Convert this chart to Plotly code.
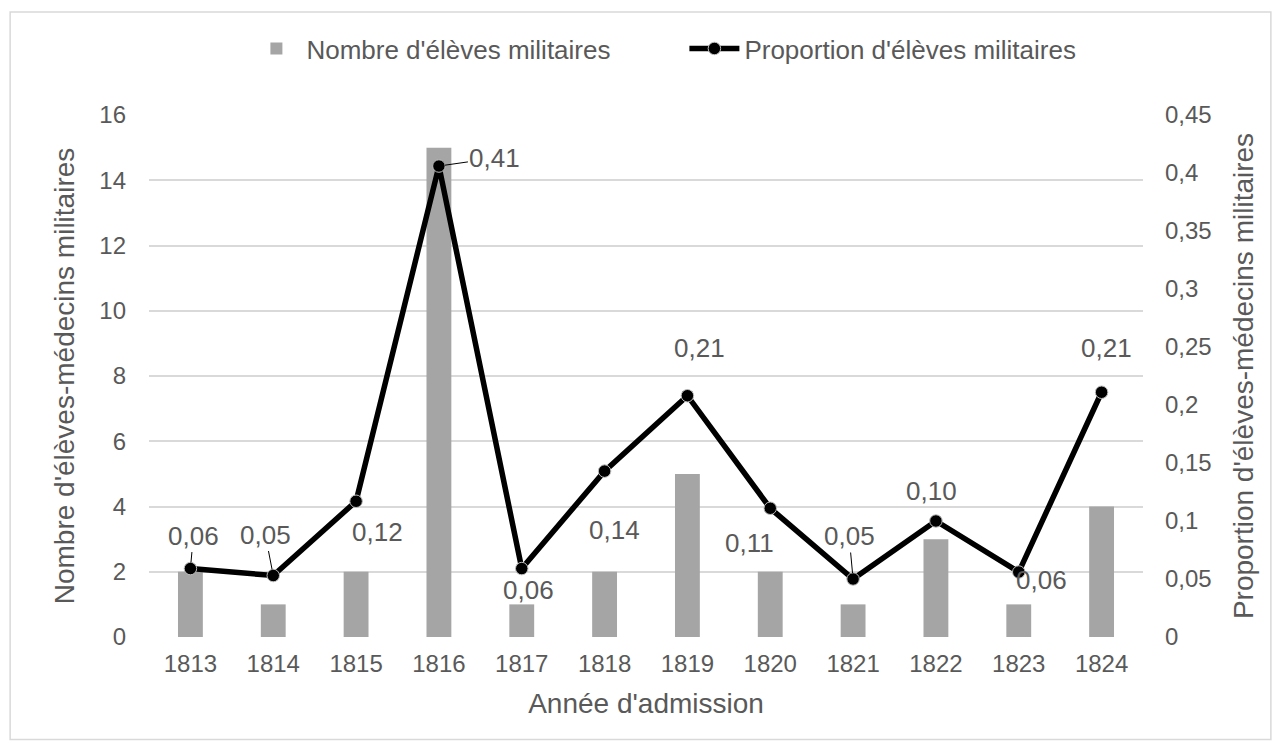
import plotly.graph_objects as go

years = ["1813", "1814", "1815", "1816", "1817", "1818", "1819", "1820", "1821", "1822", "1823", "1824"]
nombre = [2, 1, 2, 15, 1, 2, 5, 2, 1, 3, 1, 4]
proportion = [0.059, 0.053, 0.117, 0.406, 0.059, 0.143, 0.208, 0.111, 0.050, 0.100, 0.056, 0.211]

y1_ticks = list(range(0, 17, 2))
y2_ticks = [0, 0.05, 0.1, 0.15, 0.2, 0.25, 0.3, 0.35, 0.4, 0.45]

# label placement (pixel offsets from each point) and leader lines
label_dx = [3, -8, 21, 56, 7, 10, 12, -21, -4, -4, 23, 5]
label_dy = [-33, -41, 31, -8, 21, 59, -48, 35, -43, -30, 8, -44]
leader = [True, True, False, True, False, False, False, False, True, False, False, False]

GREY_TXT = "#595959"
FONT = "Liberation Sans, Arial, sans-serif"

fig = go.Figure()
fig.add_trace(go.Bar(
    x=years, y=nombre, name="Nombre d'élèves militaires",
    marker=dict(color="#a5a5a5", line=dict(width=0)), width=0.3, yaxis="y",
))
fig.add_trace(go.Scatter(
    x=years, y=proportion, name="Proportion d'élèves militaires", yaxis="y2",
    mode="lines+markers",
    line=dict(color="black", width=5.5),
    marker=dict(color="black", size=12.5, line=dict(color="#bfbfbf", width=1)),
))

annotations = []
for i, (v, dx, dy, ld) in enumerate(zip(proportion, label_dx, label_dy, leader)):
    txt = f"{v:.2f}".replace(".", ",")
    if ld:
        annotations.append(dict(
            x=i, y=v, xref="x", yref="y2", text=txt, showarrow=True,
            ax=dx, ay=dy, arrowhead=0, arrowwidth=1, arrowcolor="black",
            standoff=6, font=dict(size=26, color=GREY_TXT, family=FONT),
        ))
    else:
        annotations.append(dict(
            x=i, y=v, xref="x", yref="y2", text=txt, showarrow=False,
            xshift=dx, yshift=-dy, font=dict(size=26, color=GREY_TXT, family=FONT),
        ))

# page body has an 8px margin; the figure is sized so that the plot area
# lands at screen x 148.5..1143.5 and y 114.5..637
OFF = 8
W, H = 1281 - OFF, 749 - OFF
L, R, T, B = 148.5 - OFF, 137.5, 114.5 - OFF, 112
pw, ph = W - L - R, H - T - B
X0, Y0 = 148.5, 637  # screen position of plot-area origin


def px_x(px):
    return (px - X0) / pw


def px_y(py):
    return (Y0 - py) / ph


fig.update_layout(
    width=W, height=H,
    margin=dict(l=L, r=R, t=T, b=B, pad=0),
    paper_bgcolor="white", plot_bgcolor="white",
    separators=", ",
    font=dict(family=FONT, color=GREY_TXT, size=24),
    showlegend=True,
    legend=dict(
        orientation="h", x=px_x(246), xanchor="left", y=px_y(48), yanchor="middle",
        font=dict(size=26, color=GREY_TXT, family=FONT), entrywidth=373, entrywidthmode="pixels",
        itemwidth=50, traceorder="normal",
    ),
    xaxis=dict(
        type="category", range=[-0.5, len(years) - 0.5], showgrid=False, showline=False, ticks="",
        tickfont=dict(size=24, color=GREY_TXT), ticklabelstandoff=10,
        title=dict(text="Année d'admission", font=dict(size=28, color=GREY_TXT), standoff=17),
    ),
    yaxis=dict(
        range=[0, 16], tickvals=y1_ticks, showgrid=True, gridcolor="#d9d9d9", gridwidth=1.5,
        zeroline=False, showline=False, ticks="", ticklabelstandoff=22,
        tickfont=dict(size=24, color=GREY_TXT),
        title=dict(text="Nombre d'élèves-médecins militaires", font=dict(size=28, color=GREY_TXT), standoff=16),
    ),
    yaxis2=dict(
        range=[0, 0.45], tickvals=y2_ticks, overlaying="y", side="right", showgrid=False,
        zeroline=False, showline=False, ticks="", ticklabelstandoff=21,
        tickfont=dict(size=24, color=GREY_TXT),
        title=dict(text="Proportion d'élèves-médecins militaires", font=dict(size=28, color=GREY_TXT), standoff=22),
    ),
    annotations=annotations,
    shapes=[dict(
        type="rect", xref="paper", yref="paper",
        x0=px_x(9.5), x1=px_x(1271.5), y0=px_y(739.5), y1=px_y(11.5),
        line=dict(color="#d9d9d9", width=1.5), fillcolor="rgba(0,0,0,0)", layer="below",
    )],
)

fig.write_html("out.html")
